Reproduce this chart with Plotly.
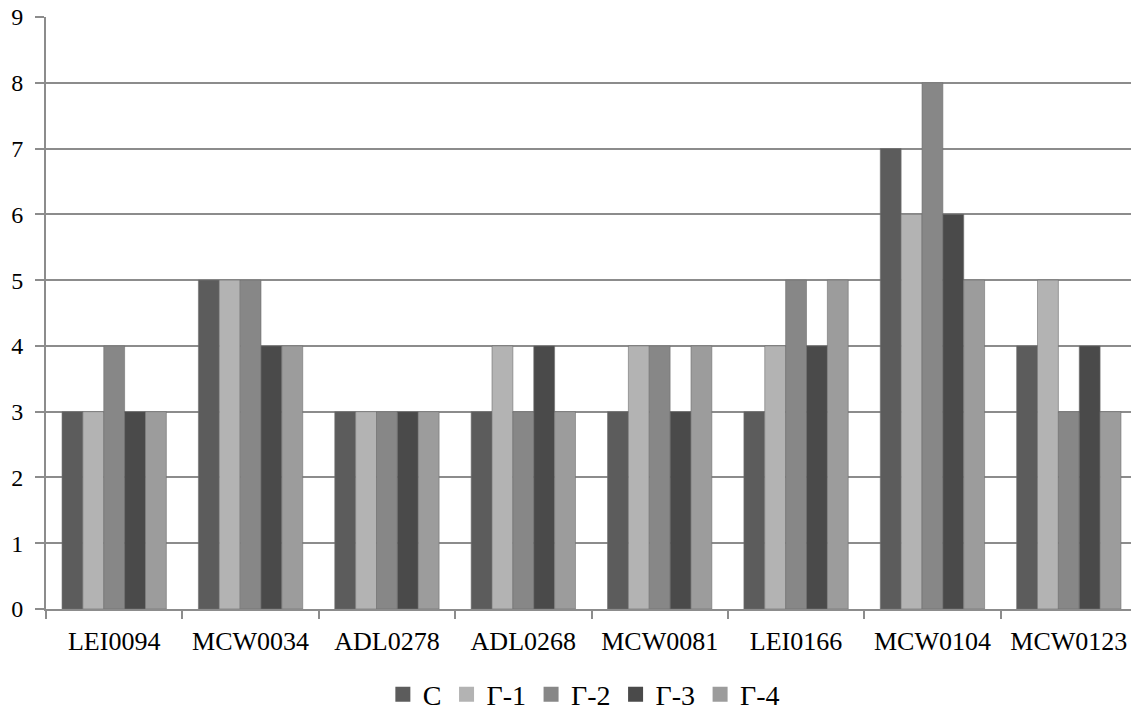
import plotly.graph_objects as go

categories = ["LEI0094", "MCW0034", "ADL0278", "ADL0268", "MCW0081", "LEI0166", "MCW0104", "MCW0123"]
series_names = ["C", "Γ-1", "Γ-2", "Γ-3", "Γ-4"]
s_C = [3, 5, 3, 3, 3, 3, 7, 4]
s_G1 = [3, 5, 3, 4, 4, 4, 6, 5]
s_G2 = [4, 5, 3, 3, 4, 5, 8, 3]
s_G3 = [3, 4, 3, 4, 3, 4, 6, 4]
s_G4 = [3, 4, 3, 3, 4, 5, 5, 3]
y_ticks = list(range(0, 10))

colors = ["#5c5c5c", "#b3b3b3", "#878787", "#4a4a4a", "#9c9c9c"]
series = [s_C, s_G1, s_G2, s_G3, s_G4]
FONT = "Liberation Serif"

fig = go.Figure()
for name, vals, col in zip(series_names, series, colors):
    fig.add_trace(go.Bar(x=categories, y=vals, name=name, showlegend=False,
                         marker=dict(color=col, line=dict(color="#707070", width=0.6))))
for name, col in zip(series_names, colors):
    fig.add_trace(go.Scatter(x=[None], y=[None], mode="markers", name=name,
                             marker=dict(symbol="square", size=15, color=col)))

fig.update_layout(
    width=1131, height=703,
    barmode="group", bargap=0.235, bargroupgap=0,
    plot_bgcolor="white", paper_bgcolor="white",
    margin=dict(l=38, r=2, t=9, b=102, autoexpand=False),
    font=dict(family=FONT, size=24, color="black"),
    legend=dict(orientation="h", x=0.493, xanchor="center", y=-0.1445, yanchor="middle",
                font=dict(family=FONT, size=28, color="black"), itemwidth=30,
                traceorder="normal", tracegroupgap=0),
    showlegend=True,
)
fig.update_yaxes(range=[0, 9], tickvals=y_ticks, showgrid=True, gridcolor="#8c8c8c", gridwidth=2,
                 showline=True, linecolor="#8c8c8c", linewidth=2, ticks="outside", ticklen=9,
                 tickcolor="#8c8c8c", tickwidth=2, zeroline=False, automargin=False,
                 ticklabeloverflow="allow", ticklabelstandoff=7,
                 tickfont=dict(family=FONT, size=24, color="black"))
fig.update_xaxes(showline=True, linecolor="#8c8c8c", linewidth=2, ticks="outside", ticklen=8,
                 tickcolor="#8c8c8c", tickwidth=2, tickson="boundaries", showgrid=False,
                 automargin=False, ticklabelstandoff=8, ticklabeloverflow="allow",
                 tickfont=dict(family=FONT, size=26, color="black"))

fig.write_html("out.html")
